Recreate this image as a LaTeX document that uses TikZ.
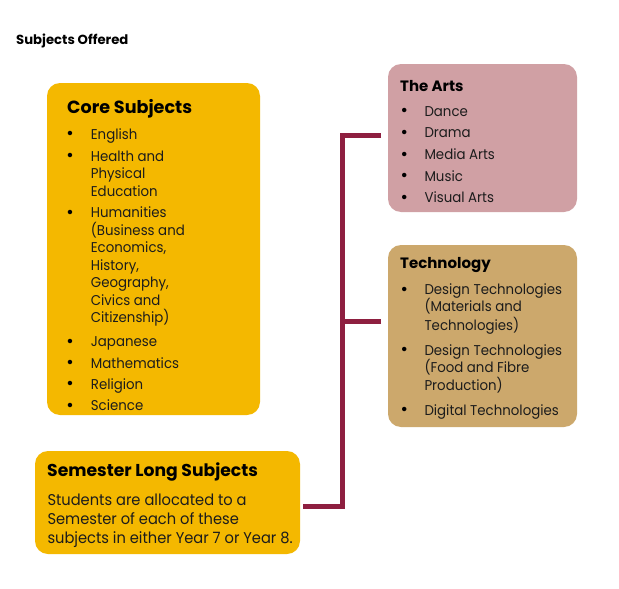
\documentclass[tikz,border=0pt]{standalone}
\usepackage{fontspec}
\setmainfont{Poppins}
\newfontfamily\bodyfont{Poppins}[FakeStretch=0.94]
\definecolor{coregold}{HTML}{F4B800}
\definecolor{artspink}{HTML}{D0A0A4}
\definecolor{techtan}{HTML}{CCA86C}
\definecolor{connred}{HTML}{8E1F40}
\definecolor{bodytext}{HTML}{1C1C1C}
\tikzset{
  box/.style={rectangle, rounded corners=13pt, inner sep=0pt, outer sep=0pt, anchor=north west},
  conn/.style={draw=connred, line width=5pt, line join=miter, line cap=butt},
  ttl/.style={anchor=base west, inner sep=0pt, font=\bfseries\fontsize{17.6}{21}\selectfont},
  sttl/.style={anchor=base west, inner sep=0pt, font=\bfseries\fontsize{15}{18}\selectfont},
  item/.style={anchor=base west, inner sep=0pt, text=bodytext, font=\bodyfont\fontsize{14.2}{17}\selectfont},
  sitem/.style={anchor=base west, inner sep=0pt, text=bodytext, font=\bodyfont\fontsize{15.6}{19}\selectfont},
  bul/.style={anchor=base, inner sep=0pt, font=\fontsize{18}{17}\selectfont, yshift=-0.8pt},
}
\begin{document}
\begin{tikzpicture}[x=1pt,y=-1pt]
\useasboundingbox (0,0) rectangle (619,589);
\fill[white] (0,0) rectangle (619,589);

\node[anchor=base west, inner sep=0pt, font=\bfseries\fontsize{13.2}{15}\selectfont] (heading) at (16,45) {Subjects Offered};

% boxes
\node[box, fill=coregold, minimum width=213pt, minimum height=332pt] (core) at (47,83) {};
\node[box, fill=coregold, minimum width=265pt, minimum height=103pt] (semester) at (35,451) {};
\node[box, fill=artspink, minimum width=189pt, minimum height=148pt] (arts) at (388,64) {};
\node[box, fill=techtan, minimum width=189pt, minimum height=182pt] (tech) at (388,245) {};

% connectors
\coordinate (spinetop) at (342.5,135);
\coordinate (spinemid) at (342.5,321);
\coordinate (spinebot) at (342.5,506);
\draw[conn] ([shift={(-7,-3)}]arts.west) -- (spinetop) -- (spinebot) -- ([shift={(3,3.5)}]semester.east);
\draw[conn] ([shift={(-7,-15)}]tech.west) -- (spinemid);

% core subjects
\node[ttl] (coretitle) at (67,113) {Core Subjects};
\foreach \y [count=\i] in {139,161,217.5,346.5,368,389,410.3}
  \node[bul] (corebul-\i) at (70,\y) {\textbullet};
\foreach \y/\t [count=\i] in {139/English,161/{Health and},178.5/Physical,196/Education,217.5/Humanities,235/{(Business and},252.5/{Economics,},270/{History,},287.5/{Geography,},305/{Civics and},322.5/{Citizenship)},346.5/Japanese,368/Mathematics,389/Religion,410.3/Science}
  \node[item] (coreitem-\i) at (90.7,\y) {\t};

% semester
\node[ttl, font=\bfseries\fontsize{17.2}{20}\selectfont] (semtitle) at (47,476.5) {Semester Long Subjects};
\foreach \y/\t [count=\i] in {505/{Students are allocated to a},524/{Semester of each of these},543/{subjects in either Year 7 or Year 8.}}
  \node[sitem] (semline-\i) at (47.3,\y) {\t};

% arts
\node[sttl] (artstitle) at (400,91) {The Arts};
\foreach \y/\t [count=\i] in {116/Dance,137.7/Drama,159.3/{Media Arts},181/Music,202.3/{Visual Arts}}{
  \node[bul] (artsbul-\i) at (404.3,\y) {\textbullet};
  \node[item] (artsitem-\i) at (424.3,\y) {\t};
}

% technology
\node[sttl] (techtitle) at (400,268.3) {Technology};
\foreach \y [count=\i] in {294.3,355,415}
  \node[bul] (techbul-\i) at (404.3,\y) {\textbullet};
\foreach \y/\t [count=\i] in {294.3/{Design Technologies},311.7/{(Materials and},330/{Technologies)},355/{Design Technologies},372.3/{(Food and Fibre},390/{Production)},415/{Digital Technologies}}
  \node[item] (techitem-\i) at (424.3,\y) {\t};
\end{tikzpicture}
\end{document}
